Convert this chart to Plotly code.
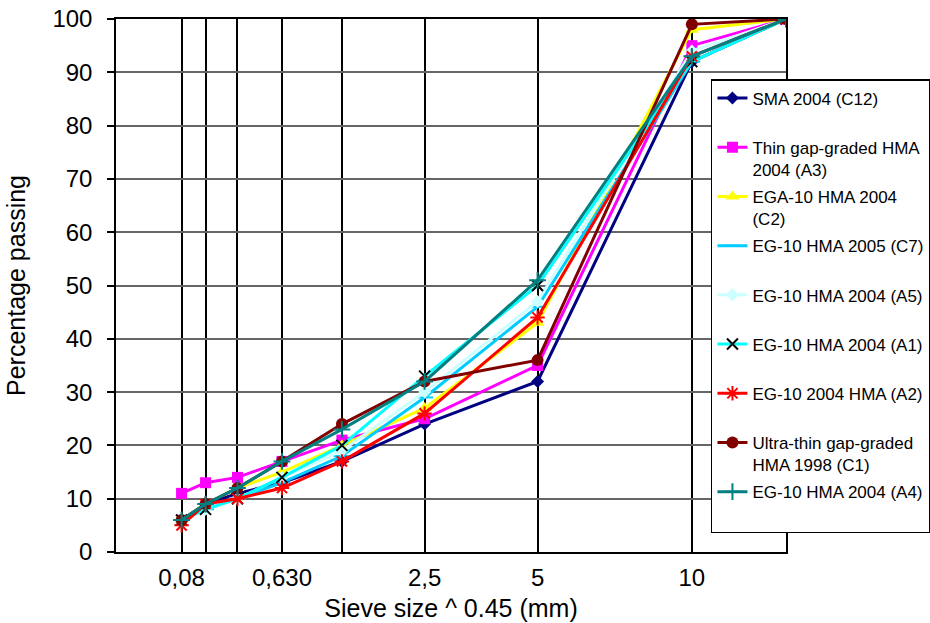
import numpy as np
import plotly.graph_objects as go

# Sieve sizes (mm) and tick labels
sieves = [0.08, 0.16, 0.315, 0.63, 1.25, 2.5, 5, 10, 14]
tick_labels = ["0,08", "", "", "0,630", "", "2,5", "5", "10", ""]

# Percentage passing for each mix
names = [
    "SMA 2004 (C12)",
    "Thin gap-graded HMA<br>2004 (A3)",
    "EGA-10 HMA 2004<br>(C2)",
    "EG-10 HMA 2005 (C7)",
    "EG-10 HMA 2004 (A5)",
    "EG-10 HMA 2004 (A1)",
    "EG-10 2004 HMA (A2)",
    "Ultra-thin gap-graded<br>HMA 1998 (C1)",
    "EG-10 HMA 2004 (A4)",
]
sma_c12 = [6, 9, 11, 13, 17, 24, 32, 92, 100]
thin_a3 = [11, 13, 14, 17, 21, 25, 35, 95, 100]
ega_c2 = [6, 9, 12, 15, 20, 27, 43, 98, 100]
eg_c7 = [6, 8, 10, 13, 18, 29, 46, 92, 100]
eg_a5 = [6, 8, 10, 14, 19, 30, 47, 94, 100]
eg_a1 = [6, 8, 10, 14, 20, 33, 50, 92, 100]
eg_a2 = [5, 9, 10, 12, 17, 26, 44, 93, 100]
ultra_c1 = [6, 9, 12, 17, 24, 32, 36, 99, 100]
eg_a4 = [6, 9, 12, 17, 23, 32, 51, 93, 100]
series = [sma_c12, thin_a3, ega_c2, eg_c7, eg_a5, eg_a1, eg_a2, ultra_c1, eg_a4]

line_colors = ["#000080", "#FF00FF", "#FFFF00", "#00CCFF", "#CCFFFF",
               "#00FFFF", "#FF0000", "#800000", "#008080"]
symbols = ["diamond", "square", "triangle-up", "line-ew", "diamond",
           "x-thin", "asterisk", "circle", "cross-thin"]
marker_sizes = [10, 11, 12, 12, 10, 11, 12, 12, 12]
marker_colors = ["#000080", "#FF00FF", "#FFFF00", "#00CCFF", "#CCFFFF",
                 "#000000", "#FF0000", "#800000", "#008080"]

xs = np.array(sieves) ** 0.45

fig = go.Figure()
for i, (nm, vals) in enumerate(zip(names, series)):
    label = nm if "<br>" in nm else nm + "<br> "
    open_sym = symbols[i] in ("line-ew", "x-thin", "asterisk", "cross-thin")
    fig.add_trace(go.Scatter(
        x=xs, y=vals, name=label, mode="lines+markers",
        legendgroup=str(i),
        line=dict(color=line_colors[i], width=3),
        marker=dict(symbol=symbols[i], size=marker_sizes[i],
                    color=marker_colors[i],
                    line=dict(color=marker_colors[i], width=2 if open_sym else 0)),
    ))

font_family = "Liberation Sans, Arial, sans-serif"
fig.update_layout(
    width=930, height=623,
    margin=dict(l=116, r=144, t=19, b=71, autoexpand=False),
    paper_bgcolor="white", plot_bgcolor="white",
    font=dict(family=font_family, color="black"),
    showlegend=True,
    legend=dict(
        x=0.888, y=0.8874, xanchor="left", yanchor="top",
        bgcolor="white", bordercolor="black", borderwidth=1.5,
        font=dict(size=17, family=font_family),
        valign="top", tracegroupgap=2, traceorder="grouped",
    ),
    xaxis=dict(
        range=[0, 14 ** 0.45], tickmode="array", tickvals=xs, ticktext=tick_labels,
        showgrid=True, gridcolor="black", gridwidth=1.5,
        showline=True, mirror=True, linecolor="black", linewidth=1.5,
        zeroline=False, ticks="", tickfont=dict(size=24), automargin=False,
        ticklabelstandoff=3, ticklabeloverflow="allow",
        title=dict(text="Sieve size ^ 0.45 (mm)", font=dict(size=25), standoff=10),
    ),
    yaxis=dict(
        range=[0, 100], dtick=10, tick0=0,
        showgrid=True, gridcolor="#666666", gridwidth=1.5,
        showline=True, mirror=True, linecolor="black", linewidth=1.5,
        zeroline=False, ticks="outside", ticklen=7, tickcolor="black", tickwidth=1.5,
        tickfont=dict(size=24), automargin=False, ticklabelstandoff=10,
        ticklabeloverflow="allow",
        title=dict(text="Percentage passing", font=dict(size=25), standoff=20),
    ),
)

fig.write_html("out.html",
               config={"displayModeBar": False},
               post_script="document.body.style.margin='0';document.body.style.overflow='hidden';")
